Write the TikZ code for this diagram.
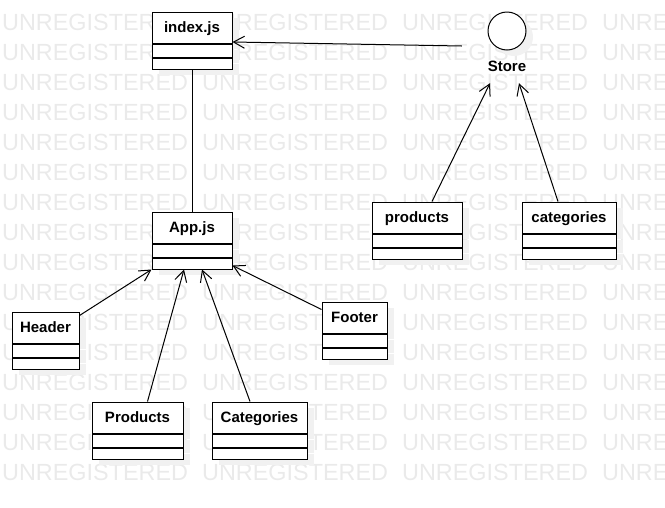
\documentclass[tikz,border=0pt]{standalone}
\usepackage{fontspec}
\setmainfont{Liberation Sans}
\usetikzlibrary{
    positioning,  % Relative positioning
    arrows.meta,  % Modern arrow tips
    shadows       % Drop shadows
}
\definecolor{wmgray}{HTML}{EAEAEA}
\definecolor{shadegray}{HTML}{F1F1F1}

\tikzset{
    wmark/.style={inner sep=0pt, text=wmgray, font=\fontsize{23.4}{23.4}\selectfont},
    boxshade/.style={drop shadow={shadow xshift=7pt, shadow yshift=-6pt, fill=shadegray, opacity=1}},
    clsname/.style={draw, fill=white, line width=1pt, inner sep=0pt, boxshade,
        minimum height=31pt, text height=10.7pt, text depth=0pt,
        font=\fontsize{15}{15}\selectfont\bfseries},
    clsattr/.style={draw, fill=white, line width=1pt, inner sep=0pt, boxshade, minimum height=13pt},
    clsops/.style={draw, fill=white, line width=1pt, inner sep=0pt, boxshade, minimum height=11pt},
    link/.style={line width=1pt},
    dep/.style={line width=1pt, -{Straight Barb[length=11pt,width=12pt]}}
}

\begin{document}
\begin{tikzpicture}[x=1pt, y=-1pt]
    \useasboundingbox (0,0) rectangle (665,507);
    % watermark
    \foreach \r in {0,...,15}
        \foreach \c in {0,...,3}
            \node[wmark, anchor=base west] (wm-\r-\c) at (2+200*\c, 30+30*\r) {UNREGISTERED};

    % classes
    \foreach \nm/\x/\y/\w/\txt in {
        index/192/27.5/80/index.js,
        app/192/227.5/80/App.js,
        header/45.5/327.5/67/Header,
        footer/354.5/317.5/65/Footer,
        products/137.5/417.5/91/Products,
        categories/259.5/417.5/95/Categories,
        prodstate/417/217.5/90/products,
        catstate/569/217.5/94/categories}
    {
        \node[clsname, minimum width=\w pt] (\nm) at (\x,\y) {\txt};
        \node[clsattr, minimum width=\w pt, below=0pt of \nm] (\nm-a) {};
        \node[clsops, minimum width=\w pt, below=0pt of \nm-a] (\nm-o) {};
    }

    % store
    \node[minimum width=90pt, minimum height=71pt] (store) at (507,47.5) {};
    \node[circle, draw, fill=white, line width=1pt, inner sep=0pt, minimum size=38pt, boxshade] (storeicon) at (507,31) {};
    \node[inner sep=0pt, text height=10.7pt, text depth=0pt, font=\fontsize{15}{15}\selectfont\bfseries] (storelbl) at (507,66) {Store};

    % connectors
    \draw[link] (index-o.south) -- (app.north);
    \draw[dep] ([yshift=1.5pt]store.west) -- ([yshift=1.5pt]index.south east);
    \draw[dep] ([yshift=-4pt]header.north east) -- (app-o.south west);
    \draw[dep] ([xshift=10pt]products.north) -- ([xshift=-8pt]app-o.south);
    \draw[dep] ([xshift=-9.5pt]categories.north) -- ([xshift=10pt]app-o.south);
    \draw[dep] ([yshift=-8pt]footer.north west) -- ([yshift=4pt]app-o.south east);
    \draw[dep] ([xshift=15pt]prodstate.north) -- ([xshift=-17pt]store.south);
    \draw[dep] ([xshift=-11pt]catstate.north) -- ([xshift=12pt]store.south);
\end{tikzpicture}
\end{document}
